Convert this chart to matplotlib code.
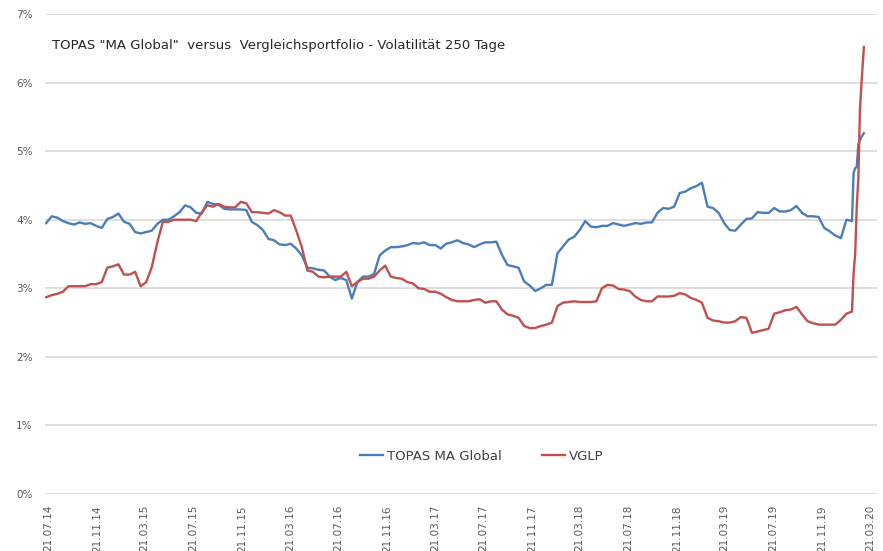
import matplotlib
matplotlib.use("Agg")
from matplotlib import pyplot as plt
import numpy as np
import pandas as pd

topas = [3.95, 4.05, 4.03, 3.98, 3.95, 3.93, 3.96, 3.94, 3.95, 3.91, 3.88, 4.01, 4.04, 4.09, 3.97, 3.94,
         3.82, 3.80, 3.82, 3.84, 3.94, 4.00, 4.00, 4.05, 4.11, 4.21, 4.18, 4.10, 4.09, 4.26, 4.23, 4.22,
         4.16, 4.15, 4.15, 4.15, 4.14,
         3.97, 3.92, 3.85, 3.72, 3.70, 3.64, 3.63, 3.65, 3.58, 3.48, 3.30, 3.29, 3.27, 3.26, 3.17, 3.12,
         3.15, 3.12, 2.85, 3.09, 3.17, 3.17, 3.21, 3.48, 3.55, 3.60, 3.60, 3.61, 3.63, 3.66, 3.65, 3.67,
         3.63, 3.63, 3.58, 3.65,
         3.67, 3.70, 3.66, 3.64, 3.60, 3.64, 3.67, 3.67, 3.68, 3.49, 3.34, 3.32, 3.30, 3.10, 3.04, 2.96,
         3.00, 3.05, 3.05, 3.51, 3.61, 3.71, 3.75, 3.85, 3.98, 3.90, 3.89, 3.91, 3.91, 3.95, 3.93, 3.91,
         3.93, 3.95, 3.94, 3.96,
         3.96, 4.10, 4.17, 4.16, 4.19, 4.39, 4.41, 4.46, 4.49, 4.54, 4.19, 4.17, 4.10, 3.95, 3.85, 3.84,
         3.93, 4.01, 4.02, 4.11, 4.10, 4.10, 4.17, 4.12, 4.12, 4.14, 4.20, 4.10, 4.05, 4.05, 4.04, 3.88,
         3.83, 3.77, 3.73, 4.00, 3.98]
vglp = [2.87, 2.90, 2.92, 2.95, 3.03, 3.03, 3.03, 3.03, 3.06, 3.06, 3.09, 3.30, 3.32, 3.35, 3.20, 3.20,
        3.24, 3.03, 3.09, 3.31, 3.67, 3.97, 3.97, 4.00, 4.00, 4.00, 4.00, 3.98, 4.11, 4.21, 4.19, 4.23,
        4.19, 4.18, 4.18, 4.26, 4.24,
        4.11, 4.11, 4.10, 4.09, 4.14, 4.11, 4.06, 4.06, 3.84, 3.60, 3.26, 3.24, 3.17, 3.16, 3.17, 3.17,
        3.17, 3.24, 3.03, 3.09, 3.14, 3.14, 3.17, 3.26, 3.33, 3.17, 3.15, 3.14, 3.09, 3.07, 3.00, 2.99,
        2.95, 2.95, 2.92, 2.87,
        2.83, 2.81, 2.81, 2.81, 2.83, 2.84, 2.79, 2.81, 2.81, 2.69, 2.62, 2.60, 2.57, 2.45, 2.42, 2.42,
        2.45, 2.47, 2.50, 2.74, 2.79, 2.80, 2.81, 2.80, 2.80, 2.80, 2.81, 3.00, 3.05, 3.04, 2.99, 2.98,
        2.96, 2.88, 2.83, 2.81,
        2.81, 2.88, 2.88, 2.88, 2.89, 2.93, 2.91, 2.86, 2.83, 2.79, 2.57, 2.53, 2.52, 2.50, 2.50, 2.52,
        2.58, 2.57, 2.35, 2.37, 2.39, 2.41, 2.63, 2.65, 2.68, 2.69, 2.73, 2.62, 2.52, 2.49, 2.47, 2.47,
        2.47, 2.47, 2.54, 2.63, 2.66]

tail_dates = ["2020-02-09", "2020-02-13", "2020-02-17", "2020-02-21", "2020-02-25", "2020-02-29", "2020-03-06"]
topas_tail = [4.68, 4.75, 4.77, 5.10, 5.16, 5.21, 5.26]
vglp_tail = [3.22, 3.50, 4.19, 4.60, 5.60, 6.00, 6.52]

dates = pd.date_range("2014-07-16", periods=len(topas), freq="14D").append(pd.DatetimeIndex(tail_dates))
topas_all = np.array(topas + topas_tail) / 100
vglp_all = np.array(vglp + vglp_tail) / 100

# Achsenbeschriftung: jeweils der 21. alle 4 Monate (Juli, November, Maerz)
tick_dates = pd.date_range("2014-07-01", "2020-03-01", freq="4MS") + pd.Timedelta(days=20)

fig = plt.figure(figsize=(8.83, 5.51), dpi=100)
ax = fig.add_axes([45 / 883, 1 - 494 / 551, 832 / 883, 480 / 551])

ax.plot(dates, topas_all, color="#4a7ebb", lw=1.7, label="TOPAS MA Global")
ax.plot(dates, vglp_all, color="#c0504d", lw=1.7, label="VGLP")

ax.set_ylim(0, 0.07)
ax.set_yticks(np.arange(0, 0.071, 0.01))
ax.set_yticklabels([f"{i}%" for i in range(8)])
ax.set_xlim(pd.Timestamp("2014-07-13"), pd.Timestamp("2020-04-08"))
ax.set_xticks(tick_dates)
ax.set_xticklabels([d.strftime("%d.%m.%y") for d in tick_dates], rotation=90)

ax.grid(axis="y", color="#d9d9d9", lw=1.2)
ax.set_axisbelow(True)
for s in ax.spines.values():
    s.set_visible(False)
ax.tick_params(length=0, labelsize=7.5, labelcolor="#595959")
ax.tick_params(axis="x", pad=8)
ax.tick_params(axis="y", pad=9)

ax.text(0.0085, 0.935, 'TOPAS "MA Global"  versus  Vergleichsportfolio - Volatilität 250 Tage',
        transform=ax.transAxes, ha="left", va="center", fontsize=9.5, color="#262626")

ax.legend(loc="center", bbox_to_anchor=(0.525, 0.079), ncol=2, frameon=False, fontsize=9.5,
          handlelength=1.8, handletextpad=0.3, columnspacing=3.0, labelcolor="#404040")

fig.savefig("out.png", dpi=100)
